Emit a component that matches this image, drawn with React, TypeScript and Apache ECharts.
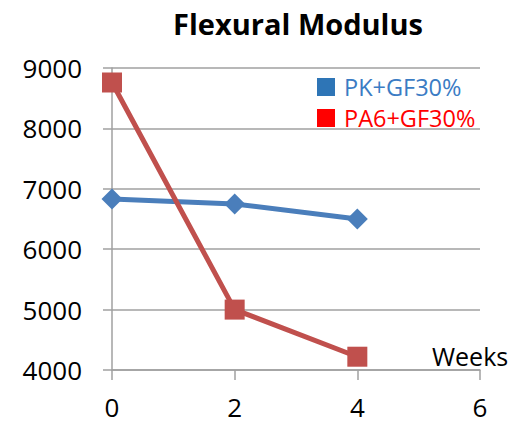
import React, { useEffect, useRef } from "react";
import * as echarts from "echarts";

const weeks = [0, 2, 4];
const pkValues = [6830, 6750, 6500];
const pa6Values = [8760, 5000, 4220];
const seriesNames = ["PK+GF30%", "PA6+GF30%"];
const titleText = "Flexural Modulus";
const xAxisName = "Weeks";

const FONT = "'Open Sans', 'Noto Sans', sans-serif";

export default function App() {
  const ref = useRef<HTMLDivElement>(null);
  useEffect(() => {
    if (!ref.current) return;
    const chart = echarts.init(ref.current, undefined, { renderer: "svg" });
    const toPairs = (vals: number[]) => weeks.map((w, i) => [w, vals[i]]);
    chart.setOption({
      animation: false,
      textStyle: { fontFamily: FONT },
      title: {
        text: titleText,
        left: 293,
        textAlign: "center",
        top: 4,
        textStyle: { fontSize: 29, fontWeight: "bold", color: "#000", fontFamily: FONT },
      },
      legend: {
        left: 312,
        top: 70,
        orient: "vertical",
        itemWidth: 18,
        itemHeight: 18,
        itemGap: 7,
        icon: "rect",
        data: [
          { name: seriesNames[0], itemStyle: { color: "#2e75b6" }, textStyle: { color: "#3b7cc4" } },
          { name: seriesNames[1], itemStyle: { color: "#ff0000" }, textStyle: { color: "#ff0000" } },
        ],
        textStyle: { fontSize: 23.5, fontFamily: FONT, padding: [0, 0, 0, 4] },
      },
      grid: { left: 112, right: 32, top: 68, bottom: 56, containLabel: false },
      xAxis: {
        type: "value",
        min: 0,
        max: 6,
        interval: 2,
        name: xAxisName,
        nameLocation: "end",
        nameGap: -48,
        nameTextStyle: {
          fontSize: 25,
          color: "#000",
          align: "left",
          verticalAlign: "bottom",
          padding: [0, 0, 2, 0],
          fontFamily: FONT,
        },
        axisLine: { lineStyle: { color: "#a0a0a0", width: 1.5 } },
        axisTick: { show: true, length: 10, lineStyle: { color: "#a0a0a0", width: 1.5 } },
        axisLabel: { fontSize: 26, color: "#000", margin: 24, fontFamily: FONT },
        splitLine: { show: false },
      },
      yAxis: {
        type: "value",
        min: 4000,
        max: 9000,
        interval: 1000,
        axisLine: { show: true, lineStyle: { color: "#a0a0a0", width: 1.5 } },
        axisTick: { show: true, length: 9, lineStyle: { color: "#a0a0a0", width: 1.5 } },
        axisLabel: {
          fontSize: 26,
          color: "#000",
          margin: 30,
          fontFamily: FONT,
          formatter: (v: number) => String(v),
        },
        splitLine: { show: true, lineStyle: { color: "#a0a0a0", width: 1.5 } },
      },
      series: [
        {
          name: seriesNames[0],
          type: "line",
          data: toPairs(pkValues),
          symbol: "diamond",
          symbolSize: 21,
          lineStyle: { color: "#4a7ebb", width: 5 },
          itemStyle: { color: "#4a7ebb" },
          z: 3,
        },
        {
          name: seriesNames[1],
          type: "line",
          data: toPairs(pa6Values),
          symbol: "rect",
          symbolSize: 20,
          lineStyle: { color: "#c0504d", width: 5 },
          itemStyle: { color: "#c0504d" },
          z: 4,
        },
      ],
    });
    return () => chart.dispose();
  }, []);
  return <div ref={ref} style={{ width: 512, height: 426, position: "absolute", left: 0, top: 0 }} />;
}
